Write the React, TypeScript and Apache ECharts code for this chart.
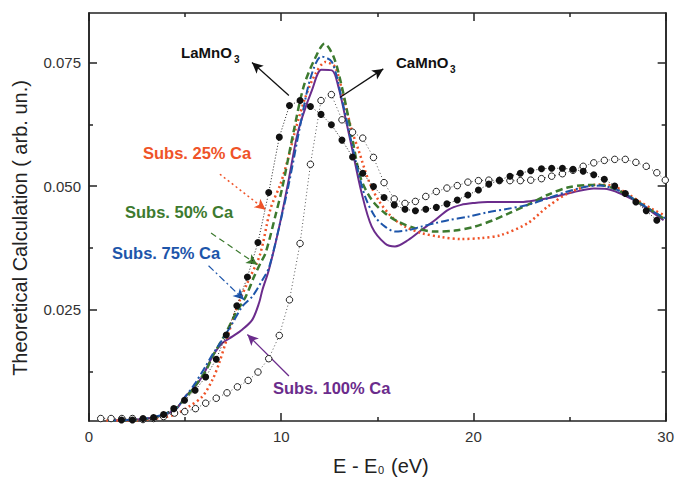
import React, { useEffect, useRef } from "react";
import * as echarts from "echarts";

// ---------- data ----------
const xTicks = [0, 10, 20, 30];
const yTicks = [0.025, 0.05, 0.075];
const yMinorTicks = [0.0125, 0.0375, 0.0625];

const laX = [1.69, 2.26, 2.81, 3.36, 3.88, 4.41, 4.97, 5.52, 6.07, 6.62, 7.14, 7.69, 8.24, 8.79, 9.35, 9.9, 10.43, 10.98, 11.52, 12.07, 12.61, 13.16, 13.71, 14.24, 14.8, 15.35, 15.88, 16.44, 16.98, 17.52, 18.07, 18.62, 19.16, 19.71, 20.26, 20.8, 21.35, 21.9, 22.44, 22.98, 23.54, 24.07, 24.63, 25.18, 25.71, 26.26, 26.81, 27.35, 27.9, 28.45, 28.99, 29.54];
const laY = [0.0027, 0.0027, 0.003, 0.0032, 0.0038, 0.005, 0.0067, 0.0087, 0.0114, 0.015, 0.0199, 0.0258, 0.0316, 0.0386, 0.0487, 0.0599, 0.0663, 0.0673, 0.0661, 0.0645, 0.0624, 0.0593, 0.0559, 0.0526, 0.0499, 0.0477, 0.0462, 0.0453, 0.045, 0.0453, 0.0457, 0.0464, 0.0472, 0.0482, 0.0492, 0.0504, 0.0512, 0.052, 0.0526, 0.0531, 0.0535, 0.0536, 0.0536, 0.0534, 0.053, 0.0523, 0.0514, 0.05, 0.0485, 0.0468, 0.045, 0.0431];

const caX = [0.61, 1.15, 1.71, 2.26, 2.81, 3.36, 3.88, 4.45, 4.98, 5.54, 6.07, 6.62, 7.18, 7.72, 8.28, 8.79, 9.35, 9.9, 10.43, 10.98, 11.52, 12.07, 12.61, 13.16, 13.71, 14.24, 14.8, 15.35, 15.88, 16.44, 16.98, 17.52, 18.07, 18.62, 19.16, 19.71, 20.26, 20.8, 21.35, 21.9, 22.44, 22.98, 23.54, 24.07, 24.63, 25.18, 25.71, 26.26, 26.81, 27.35, 27.9, 28.45, 28.99, 29.54, 29.98];
const caY = [0.003, 0.003, 0.003, 0.003, 0.0028, 0.003, 0.0034, 0.0041, 0.0044, 0.005, 0.0061, 0.0071, 0.0082, 0.0094, 0.0107, 0.0124, 0.0151, 0.0198, 0.027, 0.0384, 0.0544, 0.0673, 0.0685, 0.0634, 0.0609, 0.0597, 0.0558, 0.0507, 0.0474, 0.0465, 0.0469, 0.0479, 0.0489, 0.0496, 0.0501, 0.0508, 0.0511, 0.0512, 0.0511, 0.0511, 0.0511, 0.0512, 0.0515, 0.052, 0.0525, 0.0532, 0.054, 0.0547, 0.0552, 0.0554, 0.0554, 0.0548, 0.054, 0.0527, 0.0512];

const ca100X = [1.0, 2.5, 3.5, 4.5, 5.02, 5.4, 5.91, 6.43, 6.95, 7.47, 7.98, 8.5, 8.85, 9.02, 9.36, 9.88, 10.4, 10.8, 11.1, 11.6, 12.09, 12.64, 12.98, 13.33, 13.67, 14.19, 14.71, 15.4, 15.92, 16.61, 17.29, 17.99, 18.68, 19.36, 20.06, 20.74, 21.78, 22.47, 23.33, 24.2, 25.23, 26.26, 26.95, 27.64, 28.33, 29.02, 29.89];
const ca100Y = [0.0026, 0.0028, 0.0033, 0.0048, 0.0075, 0.0089, 0.0116, 0.0156, 0.0183, 0.0196, 0.021, 0.023, 0.0264, 0.029, 0.0331, 0.0415, 0.0515, 0.0598, 0.064, 0.0694, 0.0735, 0.0734, 0.07, 0.064, 0.0579, 0.0485, 0.0418, 0.0384, 0.0378, 0.0391, 0.0411, 0.0431, 0.0452, 0.0462, 0.0466, 0.0468, 0.0468, 0.0468, 0.0472, 0.0478, 0.0488, 0.0495, 0.0494, 0.0485, 0.0472, 0.0455, 0.0431];

const ca75X = [1.0, 2.5, 3.5, 4.5, 5.03, 5.5, 6.07, 6.43, 6.78, 7.47, 7.98, 8.5, 9.02, 9.36, 9.88, 10.4, 11.0, 11.52, 12.09, 12.64, 13.16, 13.67, 14.0, 14.37, 14.88, 15.4, 15.92, 16.61, 17.29, 17.99, 18.68, 19.71, 20.74, 21.78, 22.82, 23.85, 24.89, 25.92, 26.61, 27.3, 27.99, 28.68, 29.37, 29.97];
const ca75Y = [0.0026, 0.0028, 0.0034, 0.005, 0.0075, 0.01, 0.0136, 0.016, 0.018, 0.0223, 0.0257, 0.0277, 0.031, 0.0335, 0.0415, 0.0505, 0.0625, 0.0718, 0.0762, 0.0751, 0.0675, 0.0586, 0.053, 0.0478, 0.0438, 0.0418, 0.0408, 0.0411, 0.0418, 0.0425, 0.0431, 0.0438, 0.0447, 0.0454, 0.0462, 0.0475, 0.0489, 0.0499, 0.0501, 0.0495, 0.0482, 0.0465, 0.0448, 0.0435];

const ca50X = [1.0, 2.5, 3.5, 4.5, 5.03, 5.6, 6.1, 6.43, 7.12, 7.64, 8.16, 8.59, 8.93, 9.19, 9.71, 10.05, 10.66, 11.18, 11.78, 12.25, 12.73, 13.16, 13.59, 14.11, 14.71, 15.4, 16.09, 16.95, 17.99, 19.02, 20.06, 21.09, 21.78, 22.82, 23.85, 24.89, 25.92, 26.61, 27.3, 27.99, 28.68, 29.37, 30.0];
const ca50Y = [0.0026, 0.0027, 0.0033, 0.005, 0.0072, 0.01, 0.0128, 0.0156, 0.0203, 0.0243, 0.0277, 0.0317, 0.0345, 0.0365, 0.0442, 0.0496, 0.0613, 0.0703, 0.076, 0.0788, 0.0761, 0.07, 0.062, 0.0519, 0.0472, 0.0445, 0.0428, 0.0415, 0.0408, 0.041, 0.0418, 0.0432, 0.0444, 0.0462, 0.0482, 0.0497, 0.0502, 0.0502, 0.0495, 0.0482, 0.0465, 0.0448, 0.0432];

const ca25X = [0.9, 2.3, 3.65, 4.48, 5.23, 5.91, 6.43, 6.78, 7.21, 7.7, 8.25, 8.9, 9.45, 9.97, 10.4, 10.74, 11.26, 11.78, 12.3, 12.81, 13.24, 13.67, 14.02, 14.54, 15.05, 15.74, 16.44, 17.29, 18.33, 19.36, 20.4, 21.43, 22.82, 23.85, 24.89, 25.92, 26.61, 27.3, 27.99, 28.68, 29.37, 29.89];
const ca25Y = [0.0026, 0.0026, 0.0031, 0.0038, 0.0055, 0.0075, 0.0109, 0.0143, 0.0196, 0.0255, 0.0305, 0.0362, 0.0455, 0.0505, 0.0562, 0.0614, 0.068, 0.0727, 0.0751, 0.074, 0.068, 0.0613, 0.0573, 0.0512, 0.0472, 0.0438, 0.0418, 0.0405, 0.0397, 0.0393, 0.0395, 0.0401, 0.0425, 0.0458, 0.0485, 0.05, 0.0503, 0.05, 0.0485, 0.0468, 0.0452, 0.0442];

// annotation arrows (data coordinates: [x, y] start -> end)
const arrowLa = [[10.4, 0.0683], [8.48, 0.075]];
const arrowCa = [[13.05, 0.0679], [15.31, 0.0737]];
const arrow25 = [[6.81, 0.0524], [9.19, 0.0452]];
const arrow50 = [[6.35, 0.0405], [8.76, 0.0341]];
const arrow75 = [[6.22, 0.0339], [8.07, 0.027]];
const arrow100 = [[10.4, 0.0116], [8.24, 0.02]];

const zip = (xs: number[], ys: number[]) =>
  xs.slice(0, Math.min(xs.length, ys.length)).map((x, i) => [x, ys[i]]);

const FONT = '"Liberation Sans", Arial, Helvetica, sans-serif';
const RED = "#ef5328";
const GREEN = "#3d7a2f";
const BLUE = "#1d55aa";
const PURPLE = "#6b2c8c";
const AX = "#222";

function arrowMark(seg: number[][], color: string, type: any, width = 1.3) {
  return {
    silent: true,
    symbol: ["none", "arrow"],
    symbolSize: [8, 11],
    label: { show: false },
    emphasis: { disabled: true },
    lineStyle: { color, type, width, opacity: 1 },
    data: [[{ coord: seg[0] }, { coord: seg[1] }]],
  };
}

function xAxisDef(pos: "bottom" | "top") {
  return {
    type: "value",
    position: pos,
    min: 0,
    max: 30,
    interval: 10,
    axisLine: { show: true, onZero: false, lineStyle: { color: AX, width: 1.5 } },
    axisTick: { show: true, inside: true, length: 8, lineStyle: { color: AX, width: 1.5 } },
    minorTick: { show: true, splitNumber: 2, length: 4, lineStyle: { color: AX, width: 1.5 } },
    axisLabel: {
      show: pos === "bottom",
      color: "#333",
      fontSize: 15,
      fontFamily: FONT,
      margin: 8,
      customValues: xTicks,
    },
    splitLine: { show: false },
    minorSplitLine: { show: false },
  };
}

function yAxisDef(pos: "left" | "right", major: boolean) {
  return {
    type: "value",
    position: pos,
    min: 0.0025,
    max: 0.085,
    axisLine: { show: true, onZero: false, lineStyle: { color: AX, width: 1.5 } },
    axisTick: {
      show: true,
      inside: true,
      length: major ? 8 : 4,
      customValues: major ? yTicks : yMinorTicks,
      lineStyle: { color: AX, width: 1.5 },
    },
    axisLabel: {
      show: major && pos === "left",
      customValues: yTicks,
      color: "#333",
      fontSize: 15,
      fontFamily: FONT,
      margin: 8,
      formatter: (v: number) => v.toFixed(3),
    },
    splitLine: { show: false },
  };
}

export default function App() {
  const ref = useRef<HTMLDivElement>(null);

  useEffect(() => {
    if (!ref.current) return;
    const chart = echarts.init(ref.current, undefined, { renderer: "svg" });

    const option: any = {
      animation: false,
      backgroundColor: "#fff",
      grid: { left: 89, right: 8, top: 13, bottom: 56, containLabel: false },
      xAxis: [xAxisDef("bottom"), xAxisDef("top")],
      yAxis: [yAxisDef("left", true), yAxisDef("left", false), yAxisDef("right", true), yAxisDef("right", false)],
      series: [
        {
          name: "Subs. 100% Ca",
          type: "line",
          data: zip(ca100X, ca100Y),
          smooth: 0.3,
          showSymbol: false,
          lineStyle: { color: PURPLE, width: 2, type: "solid" },
          itemStyle: { color: PURPLE },
          markLine: arrowMark(arrow100, PURPLE, "solid", 1.3),
          z: 2,
        },
        {
          name: "Subs. 25% Ca",
          type: "line",
          data: zip(ca25X, ca25Y),
          smooth: 0.3,
          showSymbol: false,
          lineStyle: { color: RED, width: 2.5, type: [2, 3] },
          itemStyle: { color: RED },
          markLine: arrowMark(arrow25, RED, [2, 3], 1.5),
          z: 3,
        },
        {
          name: "Subs. 50% Ca",
          type: "line",
          data: zip(ca50X, ca50Y),
          smooth: 0.3,
          showSymbol: false,
          lineStyle: { color: GREEN, width: 2.5, type: [7, 4] },
          itemStyle: { color: GREEN },
          markLine: arrowMark(arrow50, GREEN, [6, 4], 1.2),
          z: 4,
        },
        {
          name: "Subs. 75% Ca",
          type: "line",
          data: zip(ca75X, ca75Y),
          smooth: 0.3,
          showSymbol: false,
          lineStyle: { color: BLUE, width: 2, type: [8, 3, 2, 3] },
          itemStyle: { color: BLUE },
          markLine: arrowMark(arrow75, BLUE, [7, 3, 2, 3], 1.2),
          z: 5,
        },
        {
          name: "CaMnO3",
          type: "line",
          data: zip(caX, caY),
          symbol: "circle",
          symbolSize: 6.5,
          showSymbol: true,
          lineStyle: { color: "#555", width: 1, type: [1, 2.5] },
          itemStyle: { color: "#fff", borderColor: "#222", borderWidth: 1 },
          markLine: arrowMark(arrowCa, "#111", "solid", 1.3),
          z: 6,
        },
        {
          name: "LaMnO3",
          type: "line",
          data: zip(laX, laY),
          symbol: "circle",
          symbolSize: 7,
          showSymbol: true,
          lineStyle: { color: "#222", width: 1, type: [1, 2] },
          itemStyle: { color: "#111", borderWidth: 0 },
          markLine: arrowMark(arrowLa, "#111", "solid", 1.3),
          z: 7,
        },
      ],
      graphic: [
        // axis titles
        {
          type: "text",
          x: 20,
          y: 228,
          rotation: Math.PI / 2,
          style: {
            text: "Theoretical Calculation ( arb. un.)",
            font: `20px ${FONT}`,
            fill: "#222",
            textAlign: "center",
            textVerticalAlign: "middle",
          },
        },
        {
          type: "text",
          x: 333,
          y: 466,
          style: { text: "E - E", font: `20px ${FONT}`, fill: "#222", textAlign: "left", textVerticalAlign: "middle" },
        },
        {
          type: "text",
          x: 378,
          y: 470,
          style: { text: "0", font: `11px ${FONT}`, fill: "#222", textAlign: "left", textVerticalAlign: "middle" },
        },
        {
          type: "text",
          x: 391,
          y: 466,
          style: { text: "(eV)", font: `20px ${FONT}`, fill: "#222", textAlign: "left", textVerticalAlign: "middle" },
        },
        // compound labels
        {
          type: "text",
          x: 181,
          y: 52,
          style: { text: "LaMnO", font: `bold 15px ${FONT}`, fill: "#111", textAlign: "left", textVerticalAlign: "middle" },
        },
        {
          type: "text",
          x: 234,
          y: 59,
          style: { text: "3", font: `bold 10px ${FONT}`, fill: "#111", textAlign: "left", textVerticalAlign: "middle" },
        },
        {
          type: "text",
          x: 396,
          y: 62,
          style: { text: "CaMnO", font: `bold 15px ${FONT}`, fill: "#111", textAlign: "left", textVerticalAlign: "middle" },
        },
        {
          type: "text",
          x: 450,
          y: 69,
          style: { text: "3", font: `bold 10px ${FONT}`, fill: "#111", textAlign: "left", textVerticalAlign: "middle" },
        },
        // substitution labels
        {
          type: "text",
          x: 143,
          y: 153,
          style: { text: "Subs. 25% Ca", font: `bold 16.5px ${FONT}`, fill: RED, textAlign: "left", textVerticalAlign: "middle" },
        },
        {
          type: "text",
          x: 125,
          y: 212,
          style: { text: "Subs. 50% Ca", font: `bold 16.5px ${FONT}`, fill: GREEN, textAlign: "left", textVerticalAlign: "middle" },
        },
        {
          type: "text",
          x: 112,
          y: 253,
          style: { text: "Subs. 75% Ca", font: `bold 16.5px ${FONT}`, fill: BLUE, textAlign: "left", textVerticalAlign: "middle" },
        },
        {
          type: "text",
          x: 273,
          y: 388,
          style: { text: "Subs. 100% Ca", font: `bold 16.5px ${FONT}`, fill: PURPLE, textAlign: "left", textVerticalAlign: "middle" },
        },
      ],
    };

    chart.setOption(option);
    return () => chart.dispose();
  }, []);

  return (
    <div
      ref={ref}
      style={{ position: "fixed", left: 0, top: 0, width: 677, height: 477, background: "#fff" }}
    />
  );
}
